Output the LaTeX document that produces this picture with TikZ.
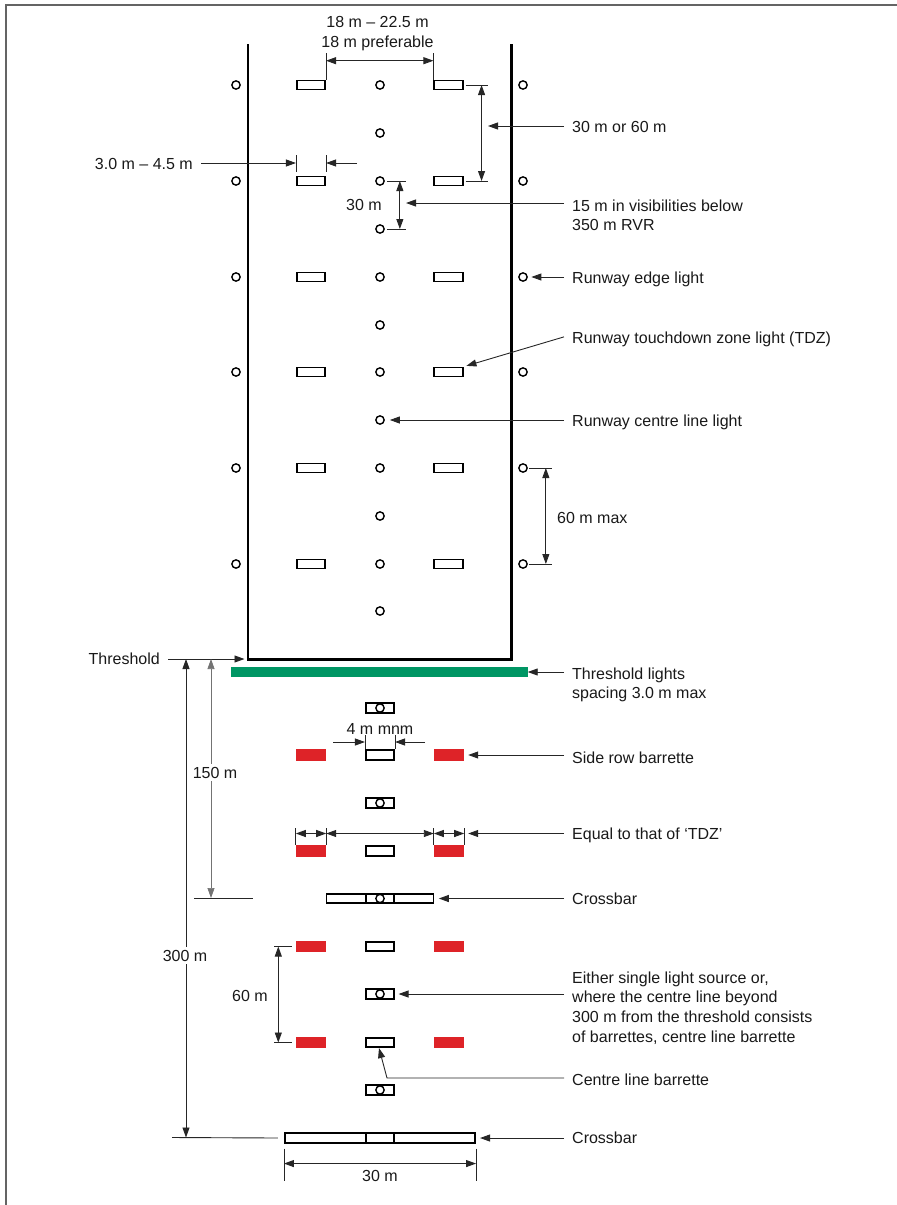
\documentclass[tikz,border=0pt]{standalone}
\usepackage{fontspec}
\setmainfont{Liberation Sans}
\usetikzlibrary{arrows.meta}
\definecolor{thrgreen}{RGB}{0,150,100}
\definecolor{barred}{RGB}{222,35,40}
\definecolor{framegray}{RGB}{100,100,100}
\newcommand{\labfont}{\fontsize{16}{19.8}\selectfont}

\begin{document}
\begin{tikzpicture}
[
x=1pt, y=-1pt,
>={Triangle[length=10pt,width=7pt]},
light-a/.style={circle,draw,line width=1.4pt,minimum size=8.3pt,inner sep=0pt},
tdz-a/.style={rectangle,draw,line width=1.6pt,minimum width=28.5pt,minimum height=9pt,inner sep=0pt},
bar-a/.style={tdz-a,minimum height=9.5pt},
side-a/.style={rectangle,fill=barred,minimum width=30pt,minimum height=11.5pt,inner sep=0pt},
text-a/.style={font=\labfont,text=black!90,inner xsep=8pt,inner ysep=0pt,anchor=base west},
text-b/.style={text-a,anchor=base east},
text-c/.style={text-a,anchor=base},
ldr/.style={->,line width=0.9pt,black!85},
dim/.style={<->,line width=0.9pt,black!85},
ext/.style={line width=0.9pt,black!85},
]
\useasboundingbox (0,0) rectangle (897,1205);
\draw[framegray, line width=1.8pt] (5.9,1205) -- (5.9,4.8) -- (897,4.8);

% runway
\draw[line width=2.8pt] (248,44) -- (248,659.5) -- (511.5,659.5) -- (511.5,44);

% edge lights
\node (el1) [light-a] at (236,85)  {};
\node (el2) [light-a] at (236,181) {};
\node (el3) [light-a] at (236,277) {};
\node (el4) [light-a] at (236,372) {};
\node (el5) [light-a] at (236,468) {};
\node (el6) [light-a] at (236,564) {};
\node (er1) [light-a] at (523,85)  {};
\node (er2) [light-a] at (523,181) {};
\node (er3) [light-a] at (523,277) {};
\node (er4) [light-a] at (523,372) {};
\node (er5) [light-a] at (523,468) {};
\node (er6) [light-a] at (523,564) {};

% touchdown zone lights
\node (tl1) [tdz-a] at (311,85)  {};
\node (tl2) [tdz-a] at (311,181) {};
\node (tl3) [tdz-a] at (311,277) {};
\node (tl4) [tdz-a] at (311,372) {};
\node (tl5) [tdz-a] at (311,468) {};
\node (tl6) [tdz-a] at (311,564) {};
\node (tr1) [tdz-a] at (448.5,85)  {};
\node (tr2) [tdz-a] at (448.5,181) {};
\node (tr3) [tdz-a] at (448.5,277) {};
\node (tr4) [tdz-a] at (448.5,372) {};
\node (tr5) [tdz-a] at (448.5,468) {};
\node (tr6) [tdz-a] at (448.5,564) {};

% centre line lights
\node (c1)  [light-a] at (380,85)  {};
\node (c2)  [light-a] at (380,133) {};
\node (c3)  [light-a] at (380,181) {};
\node (c4)  [light-a] at (380,229) {};
\node (c5)  [light-a] at (380,277) {};
\node (c6)  [light-a] at (380,325) {};
\node (c7)  [light-a] at (380,372) {};
\node (c8)  [light-a] at (380,420) {};
\node (c9)  [light-a] at (380,468) {};
\node (c10) [light-a] at (380,516) {};
\node (c11) [light-a] at (380,564) {};
\node (c12) [light-a] at (380,611) {};

% threshold
\node (gbar) [rectangle, fill=thrgreen, minimum width=296.5pt, minimum height=10pt, inner sep=0pt] at (379.25,672) {};

% approach lights
\node (a1)   [bar-a]  at (380,708)    {};
\node (o1)   [light-a] at (a1)        {};
\node (sl1)  [side-a] at (311,755)    {};
\node (a2)   [bar-a]  at (380,755)    {};
\node (sr1)  [side-a] at (449,755)    {};
\node (a3)   [bar-a]  at (380,803)    {};
\node (o2)   [light-a] at (a3)        {};
\node (sl2)  [side-a] at (311,851)    {};
\node (a4)   [bar-a]  at (380,851)    {};
\node (sr2)  [side-a] at (449,851)    {};
\node (cb1)  [bar-a, minimum width=107pt] at (380,898.5) {};
\node (cb1c) [bar-a]  at (cb1)        {};
\node (o3)   [light-a] at (cb1)       {};
\node (sl3)  [side-a] at (311,946.5)  {};
\node (a5)   [bar-a]  at (380,946.5)  {};
\node (sr3)  [side-a] at (449,946.5)  {};
\node (a6)   [bar-a]  at (380,994)    {};
\node (o4)   [light-a] at (a6)        {};
\node (sl4)  [side-a] at (311,1042.5) {};
\node (a7)   [bar-a]  at (380,1042.5) {};
\node (sr4)  [side-a] at (449,1042.5) {};
\node (a8)   [bar-a]  at (380,1090)   {};
\node (o5)   [light-a] at (a8)        {};
\node (cb2)  [bar-a, minimum width=190.5pt] at (380,1138) {};
\node (cb2c) [bar-a]  at (cb2)        {};

% labels (multi-line ones sit on their last baseline)
\node (t18a)    [text-c] at (377.5,27) {18 m – 22.5 m};
\node (t18b)    [text-c] at (377.5,47) {18 m preferable};
\node (t345)    [text-b] at (201,169)  {3.0 m – 4.5 m};
\node (t30)     [text-b] at (390,210)  {30 m};
\node (t3060)   [text-a] at (564,132)  {30 m or 60 m};
\node (t15)     [text-a, align=left] at (564,230.8) {15 m in visibilities below\\350 m RVR};
\node (tedge)   [text-a] at (564,283)  {Runway edge light};
\node (ttdz)    [text-a] at (564,343)  {Runway touchdown zone light (TDZ)};
\node (tcl)     [text-a] at (564,426)  {Runway centre line light};
\node (t60max)  [text-a] at (549,523)  {60 m max};
\node (tthr)    [text-b] at (168,664)  {Threshold};
\node (tthl)    [text-a, align=left] at (564,698.8) {Threshold lights\\spacing 3.0 m max};
\node (t4m)     [text-c] at (380,734)  {4 m mnm};
\node (tside)   [text-a] at (564,763)  {Side row barrette};
\node (teq)     [text-a] at (564,839)  {Equal to that of ‘TDZ’};
\node (tcb1)    [text-a] at (564,904)  {Crossbar};
\node (t60)     [text-c] at (250,1001.5) {60 m};
\node (tsingle) [text-a, align=left] at (564,1042.4) {Either single light source or,\\where the centre line beyond\\300 m from the threshold consists\\of barrettes, centre line barrette};
\node (tclb)    [text-a] at (564,1085) {Centre line barrette};
\node (tcb2)    [text-a] at (564,1143.5) {Crossbar};
\node (t30b)    [text-c] at (380,1181.5) {30 m};

% 18 m - 22.5 m
\draw[ext] (tl1.north east) -- ++(0,-27);
\draw[ext] (tr1.north west) -- ++(0,-27);
\draw[dim] ([yshift=19pt]tl1.north east) -- ([yshift=19pt]tr1.north west);

% 30 m or 60 m
\draw[ext] ([xshift=2pt]tr1.east) -- ++(22,0);
\draw[ext] ([xshift=2pt]tr2.east) -- ++(22,0);
\draw[dim] ([xshift=18pt]tr1.east) -- ([xshift=18pt]tr2.east);
\coordinate (m3060) at (488,126);
\draw[ldr] (t3060.west |- m3060) -- (m3060);

% 3.0 m - 4.5 m
\draw[ext] ([yshift=4pt]tl2.north west) -- ++(0,-17);
\draw[ext] ([yshift=4pt]tl2.north east) -- ++(0,-17);
\coordinate (p345) at (357,163);
\draw[ldr] (t345.east |- p345) -- (p345 -| tl2.west);
\draw[ldr] (p345) -- (p345 -| tl2.east);

% 30 m centre line
\draw[ext] ([xshift=2pt]c3.east) -- ++(19,0);
\draw[ext] ([xshift=2pt]c4.east) -- ++(19,0);
\draw[dim] ([xshift=15pt]c3.east) -- ([xshift=15pt]c4.east);
\coordinate (m30) at (406,203);
\draw[ldr] (t15.west |- m30) -- (m30);

% runway lights
\draw[ldr, shorten >=3.5pt] (tedge.west |- er3) -- (er3.east);
\draw[ldr, shorten >=3pt] ([yshift=2pt]ttdz.west) -- (tr4.north east);
\draw[ldr, shorten >=5pt] (tcl.west |- c8) -- (c8.east);

% 60 m max
\draw[ext] ([xshift=1pt]er5.east) -- ++(23,0);
\draw[ext] ([xshift=1pt]er6.east) -- ++(23,0);
\draw[dim] ([xshift=18pt]er5.east) -- ([xshift=18pt]er6.east);

% threshold
\coordinate (thr) at (244.5,659);
\draw[ldr] (tthr.east |- thr) -- (thr);
\draw[ldr] (tthl.west |- gbar) -- (gbar.east);

% 300 m and 150 m
\coordinate (h300a) at (186,659);
\coordinate (h300b) at (186,1137.5);
\draw[dim] (h300a) -- (h300b);
\draw[ext] ([xshift=-14pt]h300b) -- ([xshift=-6pt]cb2.west);
\node (t300) [text-c, fill=white, inner xsep=1pt, inner ysep=3pt] at (185,961) {300 m};
\coordinate (h150a) at (211,659);
\coordinate (h150b) at (211,898);
\draw[dim, black!55, line width=0.7pt] (h150a) -- (h150b);
\draw[ext] ([xshift=-17pt]h150b) -- ([xshift=42pt]h150b);
\node (t150) [text-c, fill=white, inner xsep=1pt, inner ysep=3pt] at (215,778) {150 m};

% 4 m mnm
\draw[ext] (a2.north west) -- ++(0,-14);
\draw[ext] (a2.north east) -- ++(0,-14);
\coordinate (m4l) at (333,742);
\coordinate (m4r) at (425,742);
\draw[ldr] (m4l) -- (m4l -| a2.west);
\draw[ldr] (m4r) -- (m4r -| a2.east);
\draw[ldr, shorten >=4pt] (tside.west |- sr1) -- (sr1.east);

% equal to TDZ
\coordinate (q) at (0,833.5);
\draw[ext] (sl2.north west) -- ++(0,-17);
\draw[ext] (sl2.north east) -- ++(0,-17);
\draw[ext] (sr2.north west) -- ++(0,-17);
\draw[ext] (sr2.north east) -- ++(0,-17);
\draw[dim] (q -| sl2.west) -- (q -| sl2.east);
\draw[dim] (q -| sl2.east) -- (q -| sr2.west);
\draw[dim] (q -| sr2.west) -- (q -| sr2.east);
\draw[ldr, shorten >=4pt] (teq.west |- q) -- (q -| sr2.east);

% crossbars and centre line
\draw[ldr, shorten >=4.5pt] (tcb1.west |- cb1) -- (cb1.east);
\draw[ldr, shorten >=3.5pt] (tsingle.west |- a6) -- (a6.east);
\coordinate (kclb) at (387,1078);
\draw[ldr] (tclb.west |- kclb) -- (kclb) -- ([xshift=-1pt]a7.south);
\draw[ldr, shorten >=4pt] (tcb2.west |- cb2) -- (cb2.east);

% 60 m
\draw[ext] ([xshift=-4pt]sl3.west) -- ++(-18,0);
\draw[ext] ([xshift=-4pt]sl4.west) -- ++(-18,0);
\draw[dim] ([xshift=-17.5pt]sl3.west) -- ([xshift=-17.5pt]sl4.west);

% 30 m
\draw[ext] ([yshift=-5pt]cb2.south west) -- ++(0,32);
\draw[ext] ([yshift=-5pt]cb2.south east) -- ++(0,32);
\draw[dim] ([yshift=-20pt]cb2.south west) -- ([yshift=-20pt]cb2.south east);
\end{tikzpicture}
\end{document}
